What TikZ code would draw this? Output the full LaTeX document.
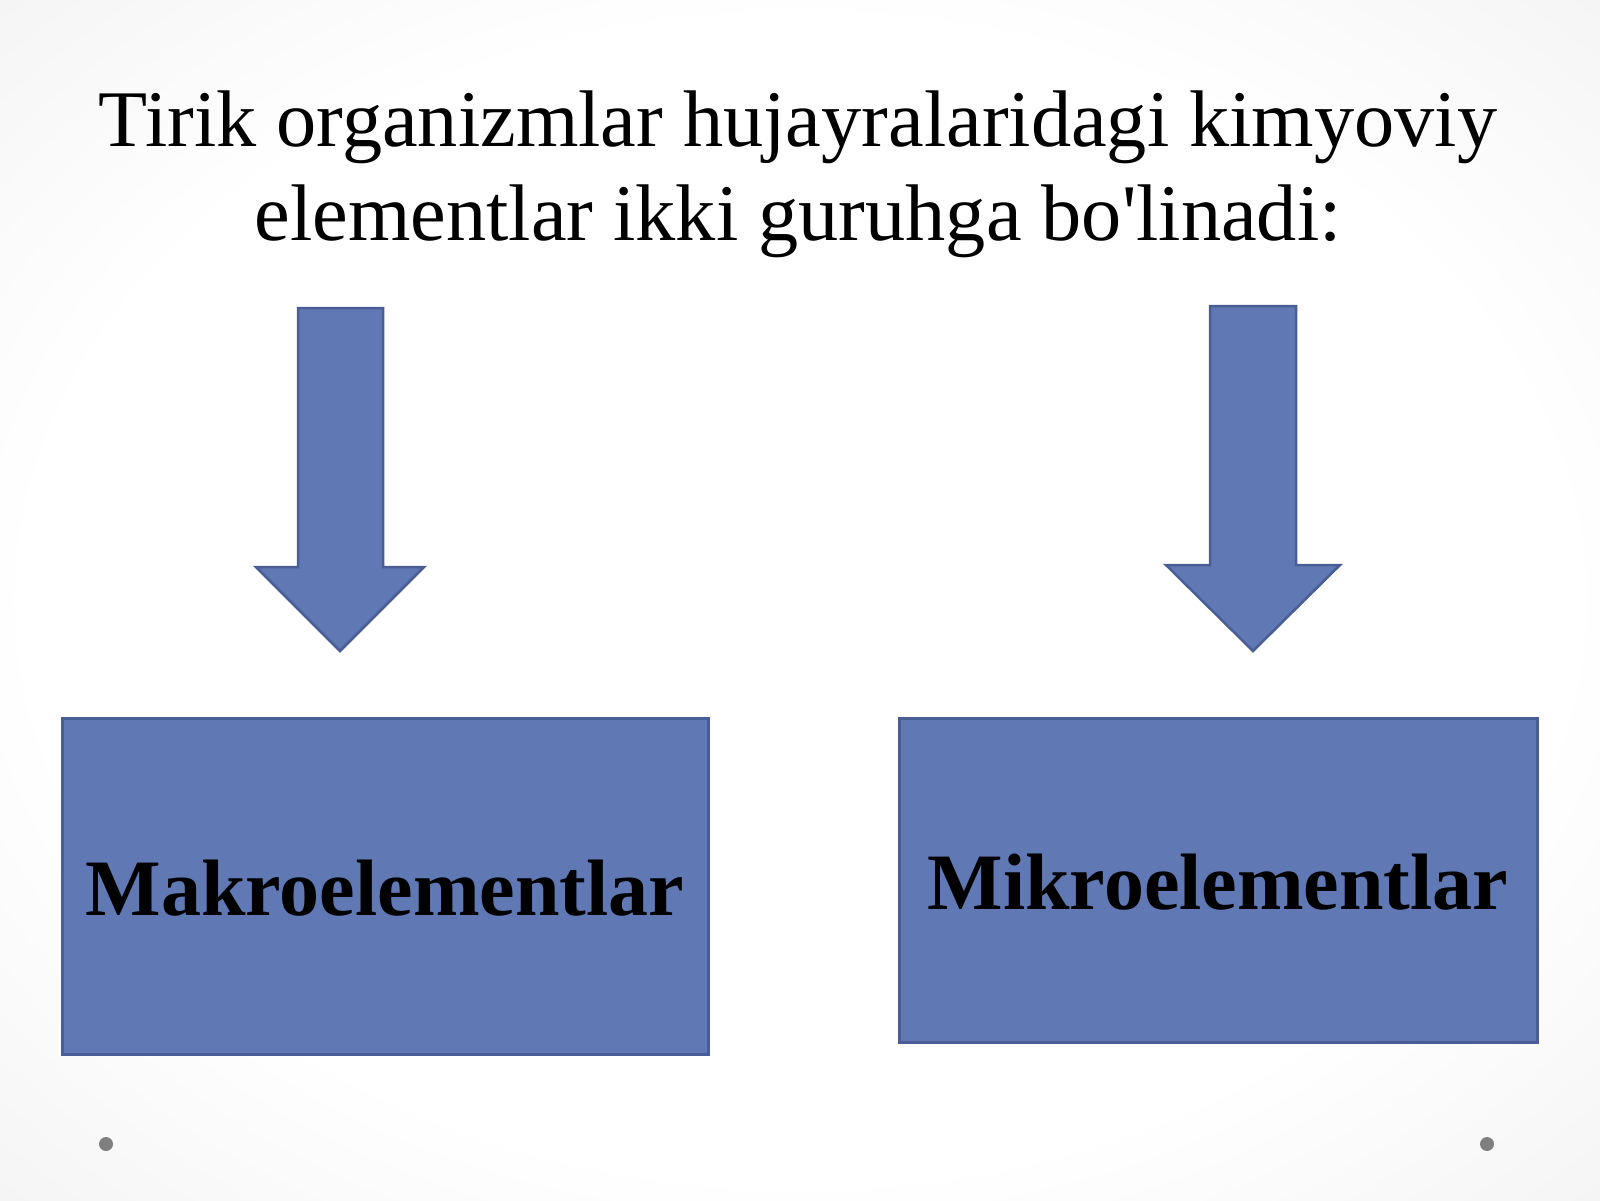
\documentclass[tikz,border=0pt]{standalone}
\usepackage{fontspec}
\setmainfont{Liberation Serif}
\newfontfamily\titlefont{Liberation Serif}[Ligatures=TeXOff]
\definecolor{boxblue}{HTML}{6078B4}
\definecolor{boxedge}{HTML}{4A5D94}
\definecolor{dotgray}{HTML}{7F7F7F}
\pgfdeclareradialshading{slidebg}{\pgfpoint{0bp}{0bp}}{color(0bp)=(white); color(24bp)=(white); color(50bp)=(black!9); color(72bp)=(black!13)}
\tikzset{
  blockarrow/.style={fill=boxblue, draw=boxedge, line width=2.5pt, line join=miter},
  groupbox/.style={fill=boxblue, draw=boxedge, line width=3pt, inner sep=0pt,
    font=\fontsize{80}{90}\selectfont\bfseries, text=black},
  titleline/.style={anchor=base, inner sep=0pt, font=\titlefont\fontsize{80.3}{94}\selectfont, text=black},
  slidedot/.style={fill=dotgray}
}
\begin{document}
\begin{tikzpicture}[x=1pt,y=-1pt]
\shade[shading=slidebg] (0,0) rectangle (1600,1200);
\useasboundingbox (0,0) rectangle (1600,1200);
\node[titleline] (title1) at (798,146) {Tirik organizmlar hujayralaridagi kimyoviy};
\node[titleline] (title2) at (798,240) {elementlar ikki guruhga bo'linadi:};
\draw[blockarrow] (298,308) -- (383,308) -- (383,567) -- (424,567) -- (340,651) -- (256,567) -- (298,567) -- cycle;
\draw[blockarrow] (1210,306) -- (1296,306) -- (1296,565) -- (1340,565) -- (1253,651) -- (1166,565) -- (1210,565) -- cycle;
\node[groupbox, minimum width=646pt, minimum height=336pt, text depth=0pt] (makro) at (385,886) {\raisebox{-3pt}{Makroelementlar}};
\node[groupbox, minimum width=638pt, minimum height=324pt, text depth=0pt] (mikro) at (1218,880) {\raisebox{-3pt}{Mikroelementlar}};
\fill[slidedot] (106,1144) circle (7pt);
\fill[slidedot] (1487,1144) circle (7pt);
\end{tikzpicture}
\end{document}
